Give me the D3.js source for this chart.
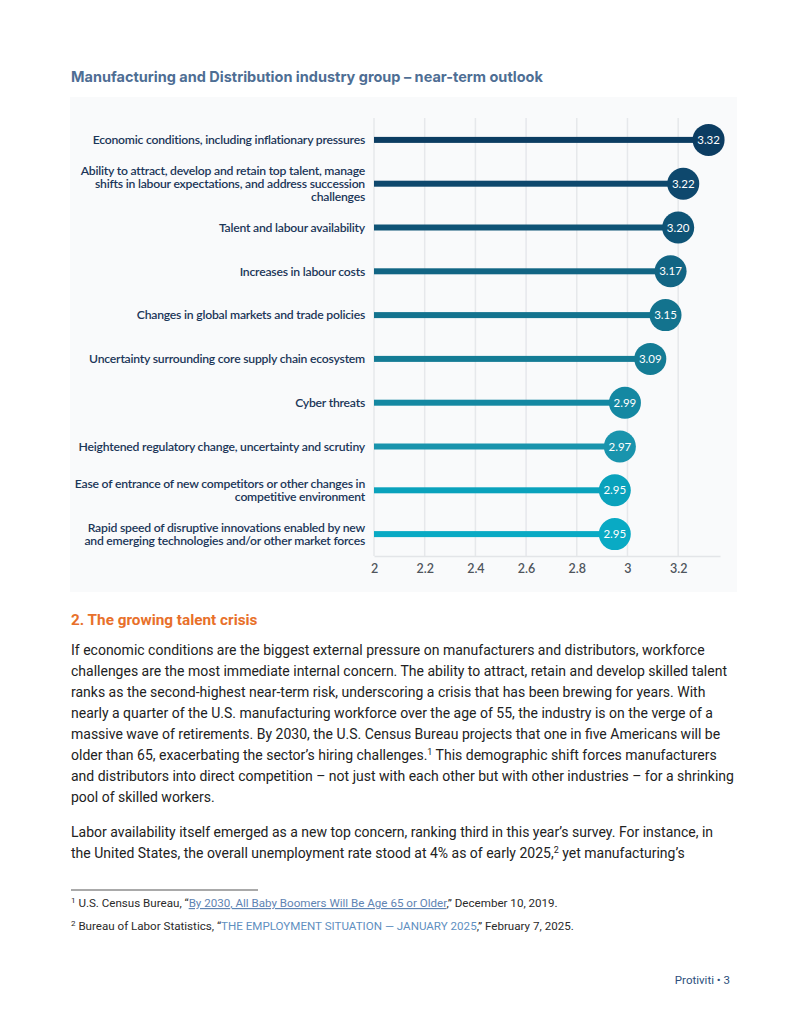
<!DOCTYPE html>
<html>
<head>
<meta charset="utf-8">
<script src="https://cdn.jsdelivr.net/npm/d3@7"></script>
<style>
  body { margin: 0; background: #fff; }
  svg { display: block; }
</style>
</head>
<body>
<div id="page"></div>
<script>
// risk categories, top to bottom (label lines as printed)
var categories = [
    ["Economic conditions, including inflationary pressures"],
    ["Ability to attract, develop and retain top talent, manage", "shifts in labour expectations, and address succession", "challenges"],
    ["Talent and labour availability"],
    ["Increases in labour costs"],
    ["Changes in global markets and trade policies"],
    ["Uncertainty surrounding core supply chain ecosystem"],
    ["Cyber threats"],
    ["Heightened regulatory change, uncertainty and scrutiny"],
    ["Ease of entrance of new competitors or other changes in", "competitive environment"],
    ["Rapid speed of disruptive innovations enabled by new", "and emerging technologies and/or other market forces"]
];
var scores = [3.32, 3.22, 3.20, 3.17, 3.15, 3.09, 2.99, 2.97, 2.95, 2.95];
var barColors = ["#0c3d62", "#0e486d", "#0f5476", "#126584", "#13738e", "#147c95", "#1488a2", "#1994ad", "#0aa2bc", "#09aac4"];
var xTicks = [2, 2.2, 2.4, 2.6, 2.8, 3, 3.2];

var bodyLines = [
    "If economic conditions are the biggest external pressure on manufacturers and distributors, workforce",
    "challenges are the most immediate internal concern. The ability to attract, retain and develop skilled talent",
    "ranks as the second-highest near-term risk, underscoring a crisis that has been brewing for years. With",
    "nearly a quarter of the U.S. manufacturing workforce over the age of 55, the industry is on the verge of a",
    "massive wave of retirements. By 2030, the U.S. Census Bureau projects that one in five Americans will be",
    ["older than 65, exacerbating the sector\u2019s hiring challenges.", "1", " This demographic shift forces manufacturers"],
    "and distributors into direct competition \u2013 not just with each other but with other industries \u2013 for a shrinking",
    "pool of skilled workers."
];
var bodyLines2 = [
    "Labor availability itself emerged as a new top concern, ranking third in this year\u2019s survey. For instance, in",
    ["the United States, the overall unemployment rate stood at 4% as of early 2025,", "2", " yet manufacturing\u2019s"]
];

window.onload = function(){
    var svg = d3.select("#page").append("svg").attr("width", 800).attr("height", 1035);
    drawChart(svg);
    drawText(svg);
};

function drawChart(svg){
    var labelFont = "Lato, 'Open Sans', sans-serif";

    svg.append("text")
        .attr("x", 71).attr("y", 82)
        .attr("fill", "#4e6e94")
        .style("font-family", "Inter, 'Noto Sans', sans-serif")
        .style("font-weight", "700")
        .style("font-size", "14.5px")
        .text("Manufacturing and Distribution industry group \u2013 near-term outlook");

    // light panel behind the chart picture
    svg.append("rect")
        .attr("x", 70).attr("y", 97).attr("width", 667).attr("height", 495)
        .attr("fill", "#f9fafb");

    var x = d3.scaleLinear().domain([2, 3.365]).range([374, 720]);
    var y = d3.scaleBand().domain(d3.range(categories.length)).range([118, 556]);

    // vertical grid
    svg.append("g").selectAll("line")
        .data(xTicks)
        .enter().append("line")
        .attr("x1", function(d){ return x(d); })
        .attr("x2", function(d){ return x(d); })
        .attr("y1", 118).attr("y2", 556)
        .attr("stroke", "#e6e8eb")
        .attr("stroke-width", 1.5);

    // x axis
    var axis = svg.append("g")
        .attr("transform", "translate(0,556)")
        .call(d3.axisBottom(x).tickValues(xTicks).tickSize(0).tickPadding(8).tickFormat(d3.format("")));
    axis.select(".domain").attr("stroke", "#e3e5e8").attr("stroke-width", 1.5);
    axis.selectAll("text")
        .attr("fill", "#4f555c")
        .style("font-family", labelFont)
        .style("font-weight", "600")
        .style("font-size", "12.5px");

    var rows = svg.append("g").selectAll("g")
        .data(scores)
        .enter().append("g")
        .attr("transform", function(d, i){ return "translate(0," + (y(i) + y.bandwidth() / 2) + ")"; });

    rows.append("rect")
        .attr("x", x(2))
        .attr("y", -3)
        .attr("width", function(d){ return x(d) - x(2); })
        .attr("height", 6)
        .attr("fill", function(d, i){ return barColors[i]; });

    rows.append("circle")
        .attr("cx", function(d){ return x(d); })
        .attr("r", 16)
        .attr("fill", function(d, i){ return barColors[i]; });

    rows.append("text")
        .attr("x", function(d){ return x(d); })
        .attr("dy", "0.35em")
        .attr("text-anchor", "middle")
        .attr("fill", "#fff")
        .style("font-family", labelFont)
        .style("font-size", "11.5px")
        .text(function(d){ return d3.format(".2f")(d); });

    // category labels, right aligned
    rows.append("text")
        .attr("text-anchor", "end")
        .attr("fill", "#1b3658")
        .style("font-family", labelFont)
        .style("font-weight", "600")
        .style("font-size", "12.2px")
        .style("letter-spacing", "-0.22px")
        .each(function(d, i){
            var lines = categories[i];
            var t = d3.select(this);
            lines.forEach(function(line, k){
                t.append("tspan")
                    .attr("x", 365)
                    .attr("y", (k - (lines.length - 1) / 2) * 13)
                    .attr("dy", "0.35em")
                    .text(line);
            });
        });
}

function writeLine(t, line){
    if (typeof line === "string") { t.text(line); return; }
    t.append("tspan").text(line[0]);
    t.append("tspan").attr("dy", -5).style("font-size", "9px").text(line[1]);
    t.append("tspan").attr("dy", 5).text(line[2]);
}

function drawText(svg){
    var bodyFont = "Roboto, 'Liberation Sans', sans-serif";

    svg.append("text")
        .attr("x", 71).attr("y", 625)
        .attr("fill", "#e8702a")
        .style("font-family", bodyFont)
        .style("font-weight", "700")
        .style("font-size", "15.3px")
        .text("2. The growing talent crisis");

    svg.append("g").selectAll("text")
        .data(bodyLines)
        .enter().append("text")
        .attr("x", 71)
        .attr("y", function(d, i){ return 655 + i * 21; })
        .attr("fill", "#222")
        .style("font-family", bodyFont)
        .style("font-size", "14px")
        .each(function(d){ writeLine(d3.select(this), d); });

    svg.append("g").selectAll("text")
        .data(bodyLines2)
        .enter().append("text")
        .attr("x", 71)
        .attr("y", function(d, i){ return 837 + i * 21; })
        .attr("fill", "#222")
        .style("font-family", bodyFont)
        .style("font-size", "14px")
        .each(function(d){ writeLine(d3.select(this), d); });

    svg.append("line")
        .attr("x1", 71).attr("x2", 258)
        .attr("y1", 890).attr("y2", 890)
        .attr("stroke", "#555").attr("stroke-width", 1);

    var fn = svg.append("g")
        .style("font-family", bodyFont)
        .style("font-size", "11.6px")
        .attr("fill", "#2a2a2a");

    var f1 = fn.append("text").attr("x", 71).attr("y", 907);
    f1.append("tspan").attr("dy", -4).style("font-size", "8px").text("1");
    f1.append("tspan").attr("dy", 4).text(" U.S. Census Bureau, \u201c");
    f1.append("tspan").attr("fill", "#5f84b3").style("text-decoration", "underline")
        .text("By 2030, All Baby Boomers Will Be Age 65 or Older");
    f1.append("tspan").text(",\u201d December 10, 2019.");

    var f2 = fn.append("text").attr("x", 71).attr("y", 930);
    f2.append("tspan").attr("dy", -4).style("font-size", "8px").text("2");
    f2.append("tspan").attr("dy", 4).text(" Bureau of Labor Statistics, \u201c");
    f2.append("tspan").attr("fill", "#5f8fbf").text("THE EMPLOYMENT SITUATION \u2014 JANUARY 2025");
    f2.append("tspan").text(",\u201d February 7, 2025.");

    svg.append("text")
        .attr("x", 730).attr("y", 984)
        .attr("text-anchor", "end")
        .attr("fill", "#2d4f7c")
        .style("font-family", bodyFont)
        .style("font-size", "11.5px")
        .text("Protiviti  \u2022  3");
}
</script>
</body>
</html>
